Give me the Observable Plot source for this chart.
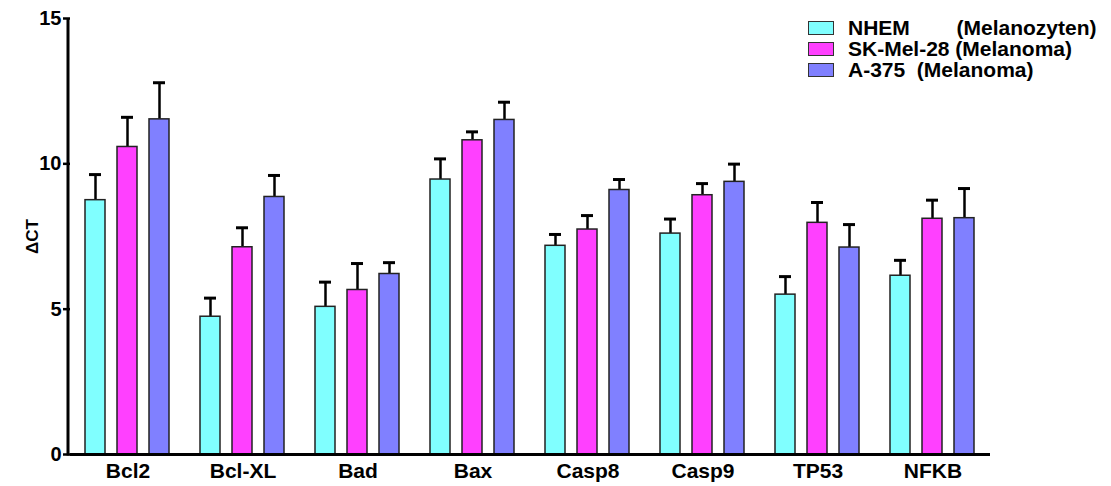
<!DOCTYPE html>
<html>
<head>
<meta charset="utf-8">
<script src="https://cdn.jsdelivr.net/npm/d3@7"></script>
<script src="https://cdn.jsdelivr.net/npm/@observablehq/plot@0.6"></script>
<style>
  body { margin: 0; background: #fff; }
  #wrap { position: relative; width: 1111px; height: 486px; font-family: "Liberation Sans", Arial, sans-serif; }
  #legend { position: absolute; left: 808px; top: 17px; font-weight: bold; font-size: 21px; color: #000; }
  .row { display: flex; align-items: center; height: 21px; line-height: 20px; white-space: pre; }
  .row span { line-height: 20px; display: inline-block; height: 20px; }
  .sw { width: 24px; height: 12px; border: 1.2px solid #333; margin-right: 14px; }
</style>
</head>
<body>
<div id="wrap"><div id="legend"></div></div>
<script>
const genes = ["Bcl2", "Bcl-XL", "Bad", "Bax", "Casp8", "Casp9", "TP53", "NFKB"];
const series = ["NHEM", "SK-Mel-28", "A-375"];
const legendLabels = ["NHEM        (Melanozyten)", "SK-Mel-28 (Melanoma)", "A-375  (Melanoma)"];
const colors = ["#80FFFF", "#FF40FF", "#8080FF"];
const yTicks = [0, 5, 10, 15];
const yLabel = "ΔCT";

const nhemMean = [8.75, 4.74, 5.08, 9.46, 7.18, 7.60, 5.50, 6.15];
const nhemErr  = [0.88, 0.64, 0.85, 0.71, 0.39, 0.50, 0.62, 0.53];
const skMean   = [10.58, 7.13, 5.66, 10.81, 7.74, 8.92, 7.97, 8.11];
const skErr    = [1.02, 0.67, 0.91, 0.29, 0.48, 0.40, 0.70, 0.64];
const a375Mean = [11.53, 8.86, 6.21, 11.51, 9.10, 9.38, 7.12, 8.13];
const a375Err  = [1.26, 0.74, 0.39, 0.61, 0.36, 0.61, 0.79, 1.02];

const means = [nhemMean, skMean, a375Mean];
const errs = [nhemErr, skErr, a375Err];
const data = [];
genes.forEach((g, i) => series.forEach((s, j) => {
  data.push({gene: g, series: s, value: means[j][i], top: means[j][i] + errs[j][i]});
}));

const marginLeft = 68;
const plot = Plot.plot({
  width: 1111,
  height: 486,
  marginLeft,
  marginRight: 119,
  marginTop: 18,
  marginBottom: 32,
  style: {fontFamily: "'Liberation Sans', Arial, sans-serif", fontWeight: "bold", fontSize: "20px", color: "#000", background: "#fff"},
  fx: {domain: genes, padding: 0, label: null},
  x: {domain: series, axis: null, paddingInner: 0.364, paddingOuter: 0.432},
  y: {domain: [0, 15]},
  color: {domain: series, range: colors},
  marks: [
    Plot.ruleX(data, {fx: "gene", x: "series", y1: "value", y2: "top", stroke: "#000", strokeWidth: 2.5}),
    Plot.tickY(data, {fx: "gene", x: "series", y: "top", stroke: "#000", strokeWidth: 3, insetLeft: 4, insetRight: 4}),
    Plot.barY(data, {fx: "gene", x: "series", y: "value", fill: "series", stroke: "#222", strokeWidth: 1.5}),
    Plot.ruleY([0], {stroke: "#000", strokeWidth: 3}),
    Plot.axisFx({anchor: "bottom", tickSize: 0, tickPadding: 9, fontSize: 21, label: null}),
    Plot.axisY({ticks: yTicks, tickSize: 7, tickPadding: 2, strokeWidth: 2.5, fontSize: 20,
                label: yLabel, labelArrow: "none", labelAnchor: "center", labelOffset: 50})
  ]
});
document.getElementById("wrap").prepend(plot);

// y axis line drawn from the plot's own y scale
const yScale = plot.scale("y");
const [yb, yt] = yScale.range;
d3.select(plot).append("line")
  .attr("x1", marginLeft).attr("x2", marginLeft)
  .attr("y1", yt).attr("y2", yb + 1.5)
  .attr("stroke", "#000").attr("stroke-width", 3);
d3.select(plot).selectAll("text").filter(function() { return this.textContent.includes(yLabel); })
  .text(yLabel).attr("font-size", 17).attr("dy", "0.3em");

const legend = document.getElementById("legend");
legendLabels.forEach((t, i) => {
  const row = document.createElement("div");
  row.className = "row";
  const sw = document.createElement("div");
  sw.className = "sw";
  sw.style.background = colors[i];
  const tx = document.createElement("span");
  tx.textContent = t;
  row.append(sw, tx);
  legend.append(row);
});
</script>
</body>
</html>
